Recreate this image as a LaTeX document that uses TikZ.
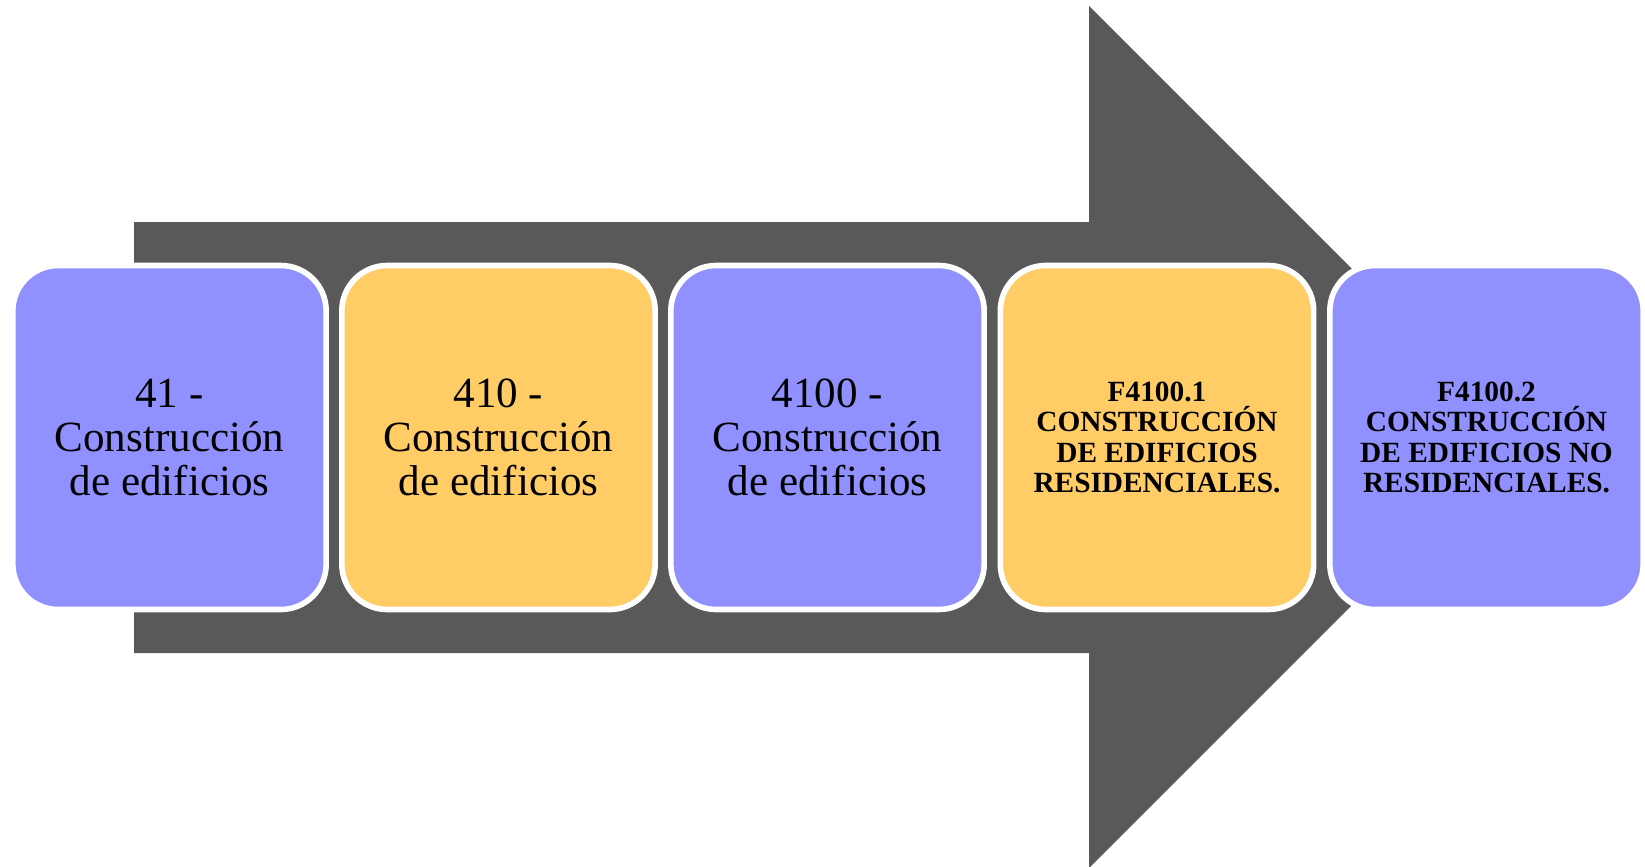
\documentclass[tikz,border=0pt]{standalone}
\usepackage{fontspec}
\setmainfont{Liberation Serif}
\definecolor{arrowgray}{HTML}{595959}
\definecolor{boxblue}{HTML}{9090FF}
\definecolor{boxgold}{HTML}{FFCC66}
\tikzset{
  stagebox/.style={draw=white, line width=4.2pt, rounded corners=34pt,
    minimum width=235pt, minimum height=258pt, inner sep=0pt, align=center,
    font=\fontsize{32.3}{33}\selectfont},
  codebox/.style={stagebox, font=\fontsize{22}{22.8}\selectfont\bfseries},
}
\begin{document}
\begin{tikzpicture}[x=0.75pt, y=-0.75pt]
\useasboundingbox (0,0) rectangle (1645,867);
% big arrow
\fill[arrowgray] (134,222) -- (1089,222) -- (1089,6) -- (1520,437)
  -- (1089,868) -- (1089,653) -- (134,653) -- cycle;
% boxes
\node[stagebox, fill=boxblue] (b1) at (169.5,437.5) {41 -\\Construcción\\de edificios};
\node[stagebox, fill=boxgold] (b2) at (498.5,437.5) {410 -\\Construcción\\de edificios};
\node[stagebox, fill=boxblue] (b3) at (827.5,437.5) {4100 -\\Construcción\\de edificios};
\node[codebox, fill=boxgold] (b4) at (1157,437.5) {F4100.1\\CONSTRUCCIÓN\\DE EDIFICIOS\\RESIDENCIALES.};
\node[codebox, fill=boxblue] (b5) at (1486.5,437.5) {F4100.2\\CONSTRUCCIÓN\\DE EDIFICIOS NO\\RESIDENCIALES.};
\end{tikzpicture}
\end{document}
